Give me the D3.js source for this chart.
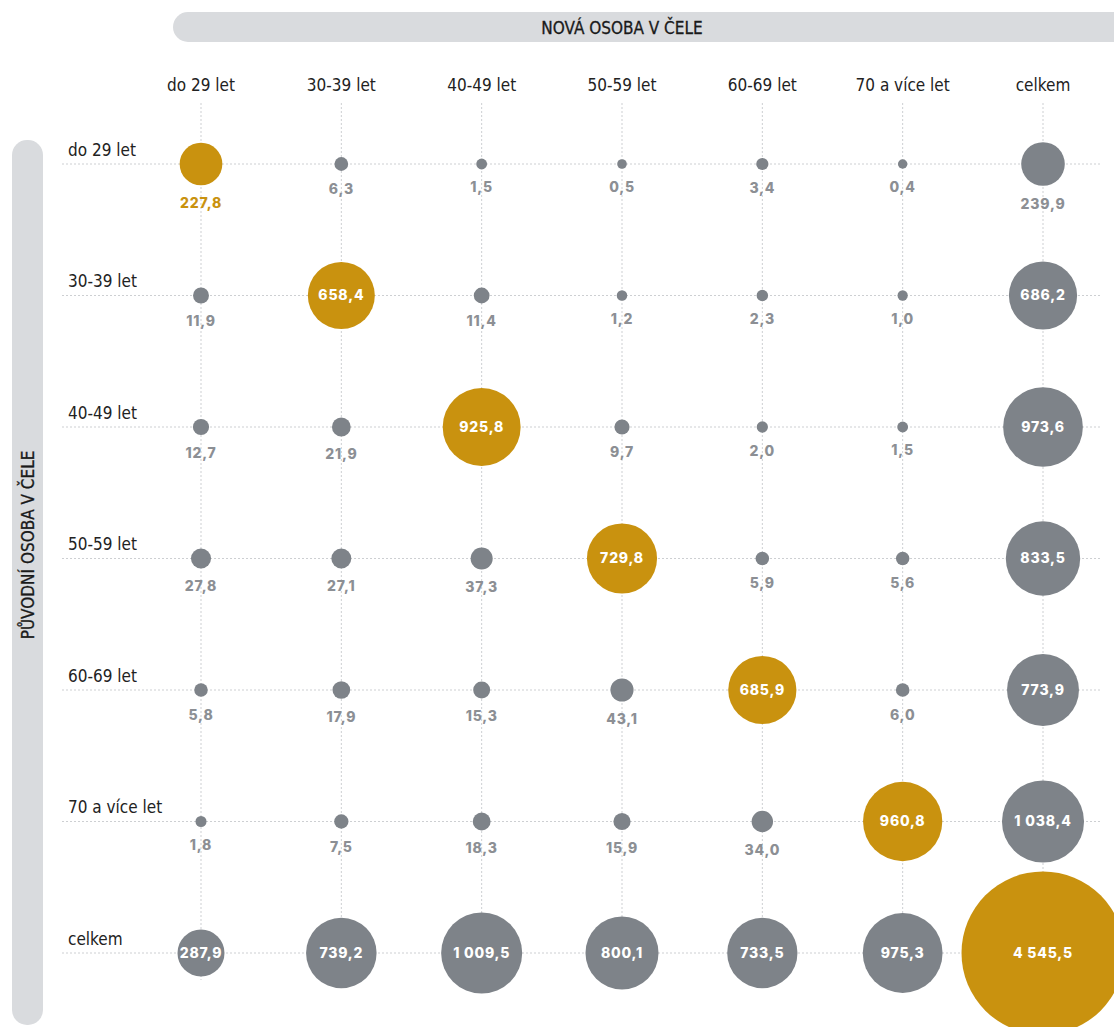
<!DOCTYPE html>
<html>
<head>
<meta charset="utf-8">
<script src="https://cdn.jsdelivr.net/npm/d3@7"></script>
<style>
  body { margin: 0; background: #fff; }
</style>
</head>
<body>
<div id="chart"></div>
<script>
// columns = new head's age, rows = original head's age
var colNames = ["do 29 let", "30-39 let", "40-49 let", "50-59 let", "60-69 let", "70 a více let", "celkem"];
var rowNames = ["do 29 let", "30-39 let", "40-49 let", "50-59 let", "60-69 let", "70 a více let", "celkem"];

var rowDo29   = [227.8, 6.3, 1.5, 0.5, 3.4, 0.4, 239.9];
var row30_39  = [11.9, 658.4, 11.4, 1.2, 2.3, 1.0, 686.2];
var row40_49  = [12.7, 21.9, 925.8, 9.7, 2.0, 1.5, 973.6];
var row50_59  = [27.8, 27.1, 37.3, 729.8, 5.9, 5.6, 833.5];
var row60_69  = [5.8, 17.9, 15.3, 43.1, 685.9, 6.0, 773.9];
var row70plus = [1.8, 7.5, 18.3, 15.9, 34.0, 960.8, 1038.4];
var rowTotal  = [287.9, 739.2, 1009.5, 800.1, 733.5, 975.3, 4545.5];

var headerTitle = "NOVÁ OSOBA V ČELE";
var sideTitle = "PŮVODNÍ OSOBA V ČELE";

var W = 1114, H = 1027;
var gold = "#C9920F", grey = "#7E8389", labelGrey = "#8C8F94";
var narrow = "'Liberation Sans Narrow', 'DejaVu Sans Condensed', 'Open Sans', sans-serif";
var valueFont = "Inter, 'DejaVu Sans', sans-serif";

var svg = d3.select("#chart").append("svg")
  .attr("width", W)
  .attr("height", H);

var x = d3.scalePoint().domain(colNames).range([201, 1043]);
var y = d3.scalePoint().domain(rowNames).range([164, 953]);
var r = d3.scaleSqrt().domain([0, 4545.5]).range([4, 81.5]);

// flatten rows into cells
var rows = [rowDo29, row30_39, row40_49, row50_59, row60_69, row70plus, rowTotal];
var cells = [];
rows.forEach(function(vals, i) {
  vals.forEach(function(v, j) {
    cells.push({row: rowNames[i], col: colNames[j], value: v, diag: i == j});
  });
});

var fmt = function(v) {
  var s = d3.format(",.1f")(v);
  return s.replace(/,/g, " ").replace(".", ",");
};

// header bar
svg.append("rect")
  .attr("x", 173).attr("y", 12)
  .attr("width", 970).attr("height", 30)
  .attr("rx", 15)
  .attr("fill", "#D9DBDE");
svg.append("text")
  .attr("x", 622).attr("y", 28)
  .attr("dy", "0.35em")
  .attr("text-anchor", "middle")
  .attr("font-family", narrow)
  .attr("font-size", 17)
  .attr("fill", "#1a1a1a")
  .attr("stroke", "#1a1a1a")
  .attr("stroke-width", 0.3)
  .text(headerTitle);

// side bar
svg.append("rect")
  .attr("x", 12).attr("y", 140)
  .attr("width", 31).attr("height", 885)
  .attr("rx", 15)
  .attr("fill", "#D9DBDE");
svg.append("text")
  .attr("transform", "translate(28,545) rotate(-90)")
  .attr("dy", "0.35em")
  .attr("text-anchor", "middle")
  .attr("font-family", narrow)
  .attr("font-size", 17)
  .attr("fill", "#1a1a1a")
  .attr("stroke", "#1a1a1a")
  .attr("stroke-width", 0.3)
  .text(sideTitle);

// grid
var grid = svg.append("g")
  .attr("stroke", "#CDCFD2")
  .attr("stroke-width", 1)
  .attr("stroke-dasharray", "2,2");
grid.selectAll("line.h")
  .data(rowNames)
  .join("line")
  .attr("class", "h")
  .attr("x1", 62).attr("x2", 1100)
  .attr("y1", d => y(d)).attr("y2", d => y(d));
grid.selectAll("line.v")
  .data(colNames)
  .join("line")
  .attr("class", "v")
  .attr("x1", d => x(d)).attr("x2", d => x(d))
  .attr("y1", 103).attr("y2", 980);

// column labels
svg.append("g")
  .selectAll("text")
  .data(colNames)
  .join("text")
  .attr("x", d => x(d))
  .attr("y", 85)
  .attr("dy", "0.35em")
  .attr("text-anchor", "middle")
  .attr("font-family", narrow)
  .attr("font-size", 17)
  .attr("fill", "#222")
  .text(d => d);

// row labels
svg.append("g")
  .selectAll("text")
  .data(rowNames)
  .join("text")
  .attr("x", 68)
  .attr("y", d => y(d) - 14)
  .attr("dy", "0.35em")
  .attr("font-family", narrow)
  .attr("font-size", 17)
  .attr("fill", "#222")
  .text(d => d);

// bubbles
var cell = svg.append("g")
  .selectAll("g")
  .data(cells)
  .join("g")
  .attr("transform", d => "translate(" + x(d.col) + "," + y(d.row) + ")");

cell.append("circle")
  .attr("r", d => r(d.value))
  .attr("fill", d => d.diag ? gold : grey);

var inside = function(d) { return d.value > 250; };

cell.append("text")
  .attr("y", d => inside(d) ? 0 : r(d.value) + 18)
  .attr("dy", "0.35em")
  .attr("text-anchor", "middle")
  .attr("font-family", valueFont)
  .attr("font-weight", 800)
  .attr("font-size", 14)
  .attr("letter-spacing", 0.8)
  .attr("fill", d => inside(d) ? "#fff" : (d.diag ? gold : labelGrey))
  .text(d => fmt(d.value));
</script>
</body>
</html>
